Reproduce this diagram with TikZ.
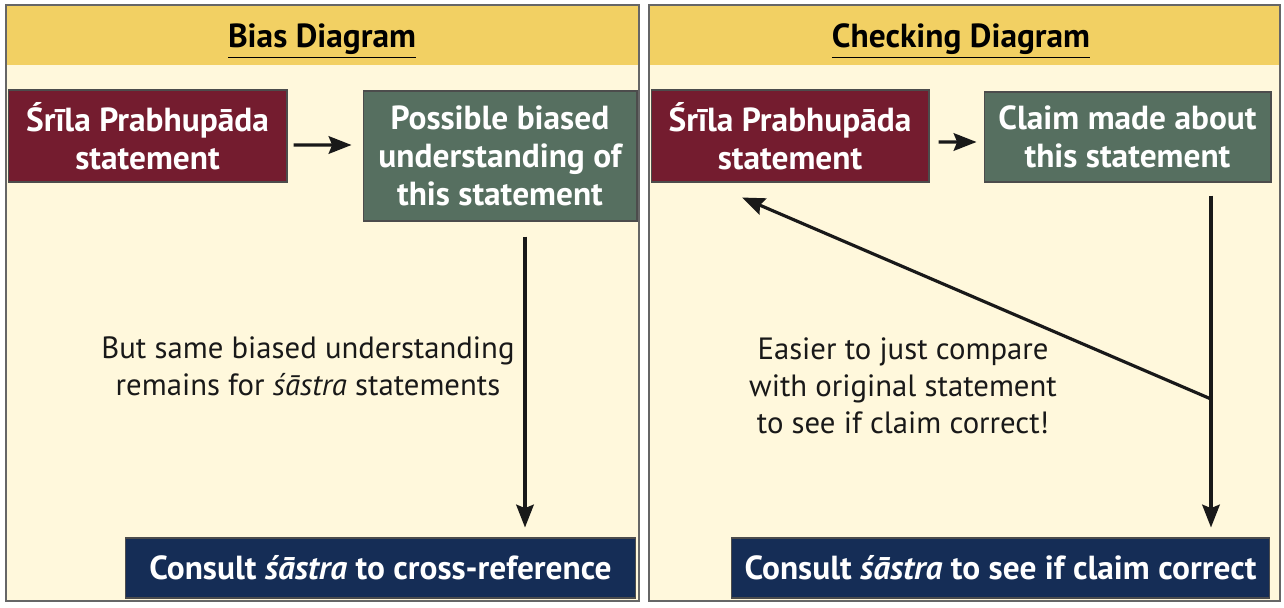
\documentclass[tikz,border=0pt]{standalone}
\usepackage{fontspec}
\setmainfont{PT Sans}
\usepackage{tikz}
\usetikzlibrary{arrows.meta}
\usetikzlibrary{calc}

\definecolor{cream}{HTML}{FFF8DC}
\definecolor{headyellow}{HTML}{F2D063}
\definecolor{maroon}{HTML}{741C2F}
\definecolor{sage}{HTML}{566F60}
\definecolor{navy}{HTML}{152D56}

\begin{document}
\begin{tikzpicture}[x=0.02cm, y=-0.02cm,
	box/.style={draw=black!70, line width=0.6pt, text=white, font=\fontsize{19}{21.5}\selectfont\bfseries, align=center, inner sep=0pt},
	arr/.style={-{Stealth[length=13pt,width=10pt,inset=2pt]}, line width=1.8pt, black!90},
	note/.style={font=\fontsize{17.5}{21}\selectfont, align=center, text=black!90}]
\useasboundingbox (0,0) rectangle (1284,608);
% panels
\filldraw[fill=cream, draw=black!60, line width=0.6pt] (6,5) rectangle (639,601);
\fill[headyellow] (7,6) rectangle (638,65);
\filldraw[fill=cream, draw=black!60, line width=0.6pt] (649,5) rectangle (1280,601);
\fill[headyellow] (650,6) rectangle (1279,65);
\node[font=\fontsize{19}{22}\selectfont\bfseries] (ltitle) at (322,41) {\underline{Bias Diagram}};
\node[font=\fontsize{19}{22}\selectfont\bfseries] (rtitle) at (961,41) {\underline{Checking Diagram}};

% bias diagram
\node[box, fill=maroon, minimum width=5.58cm, minimum height=1.84cm] (bias-stmt) at (147.5,136) {Śrīla Prabhupāda\\statement};
\node[box, fill=sage, minimum width=5.48cm, minimum height=2.6cm] (bias-und) at (500,156) {Possible biased\\understanding of\\this statement};
\node[box, fill=navy, minimum width=10.22cm, minimum height=1.2cm] (bias-sastra) at (380.5,568) {Consult \textit{śāstra} to cross-reference};
\node[note] (bias-note) at (308,366) {But same biased understanding\\remains for \textit{śāstra} statements};
\draw[arr, shorten <=0.12cm, shorten >=0.22cm] ([yshift=-0.18cm]bias-stmt.east) -- ([yshift=0.22cm]bias-und.west);
\draw[arr, shorten <=0.3cm, shorten >=0.2cm] ([xshift=0.5cm]bias-und.south) -- ([xshift=0.5cm]bias-und.south |- bias-sastra.north);

% checking diagram
\node[box, fill=maroon, minimum width=5.56cm, minimum height=1.84cm] (chk-stmt) at (790,136) {Śrīla Prabhupāda\\statement};
\node[box, fill=sage, minimum width=5.74cm, minimum height=1.8cm] (chk-claim) at (1127.5,137) {Claim made about\\this statement};
\node[box, fill=navy, minimum width=10.78cm, minimum height=1.2cm] (chk-sastra) at (1000.5,568) {Consult \textit{śāstra} to see if claim correct};
\node[note] (chk-note) at (903,386) {Easier to just compare\\with original statement\\to see if claim correct!};
\draw[arr, shorten <=0.18cm, shorten >=0.14cm] ([yshift=-0.12cm]chk-stmt.east) -- ([yshift=-0.1cm]chk-claim.west);
\draw[arr, shorten <=0.26cm, shorten >=0.2cm] ([xshift=1.67cm]chk-claim.south) -- ([xshift=1.67cm]chk-claim.south |- chk-sastra.north);
\coordinate (chk-join) at ([xshift=1.67cm]chk-claim.south |- 0,399);
\draw[arr] (chk-join) -- ([shift={(-48,15)}]chk-stmt.south);
\end{tikzpicture}
\end{document}
